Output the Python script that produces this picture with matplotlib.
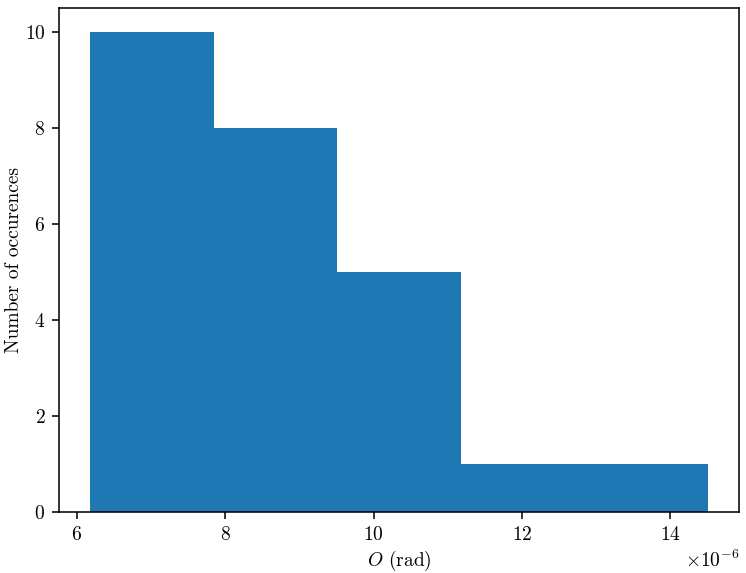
import numpy as np
import matplotlib.pyplot as plt

plt.rcParams['font.family'] = 'cmr10'
plt.rcParams['mathtext.fontset'] = 'cm'
plt.rcParams['axes.formatter.use_mathtext'] = True
plt.rcParams['font.size'] = 10

# histogram of O values (rad)
edges = np.array([6.176, 7.843, 9.510, 11.177, 12.843, 14.510]) * 1e-6
counts = [10, 8, 5, 1, 1]

fig = plt.figure(figsize=(746 / 140, 573 / 140), dpi=140)
ax = fig.add_axes([0.079, 0.1065, 0.9116, 0.8795])
ax.hist(edges[:-1], bins=edges, weights=counts, color='#1f77b4')
ax.ticklabel_format(axis='x', style='sci', scilimits=(-6, -6))
ax.set_xlabel('$O$ (rad)', labelpad=2.5)
ax.set_ylabel('Number of occurences', labelpad=1)
fig.savefig('out.png', dpi=140)
